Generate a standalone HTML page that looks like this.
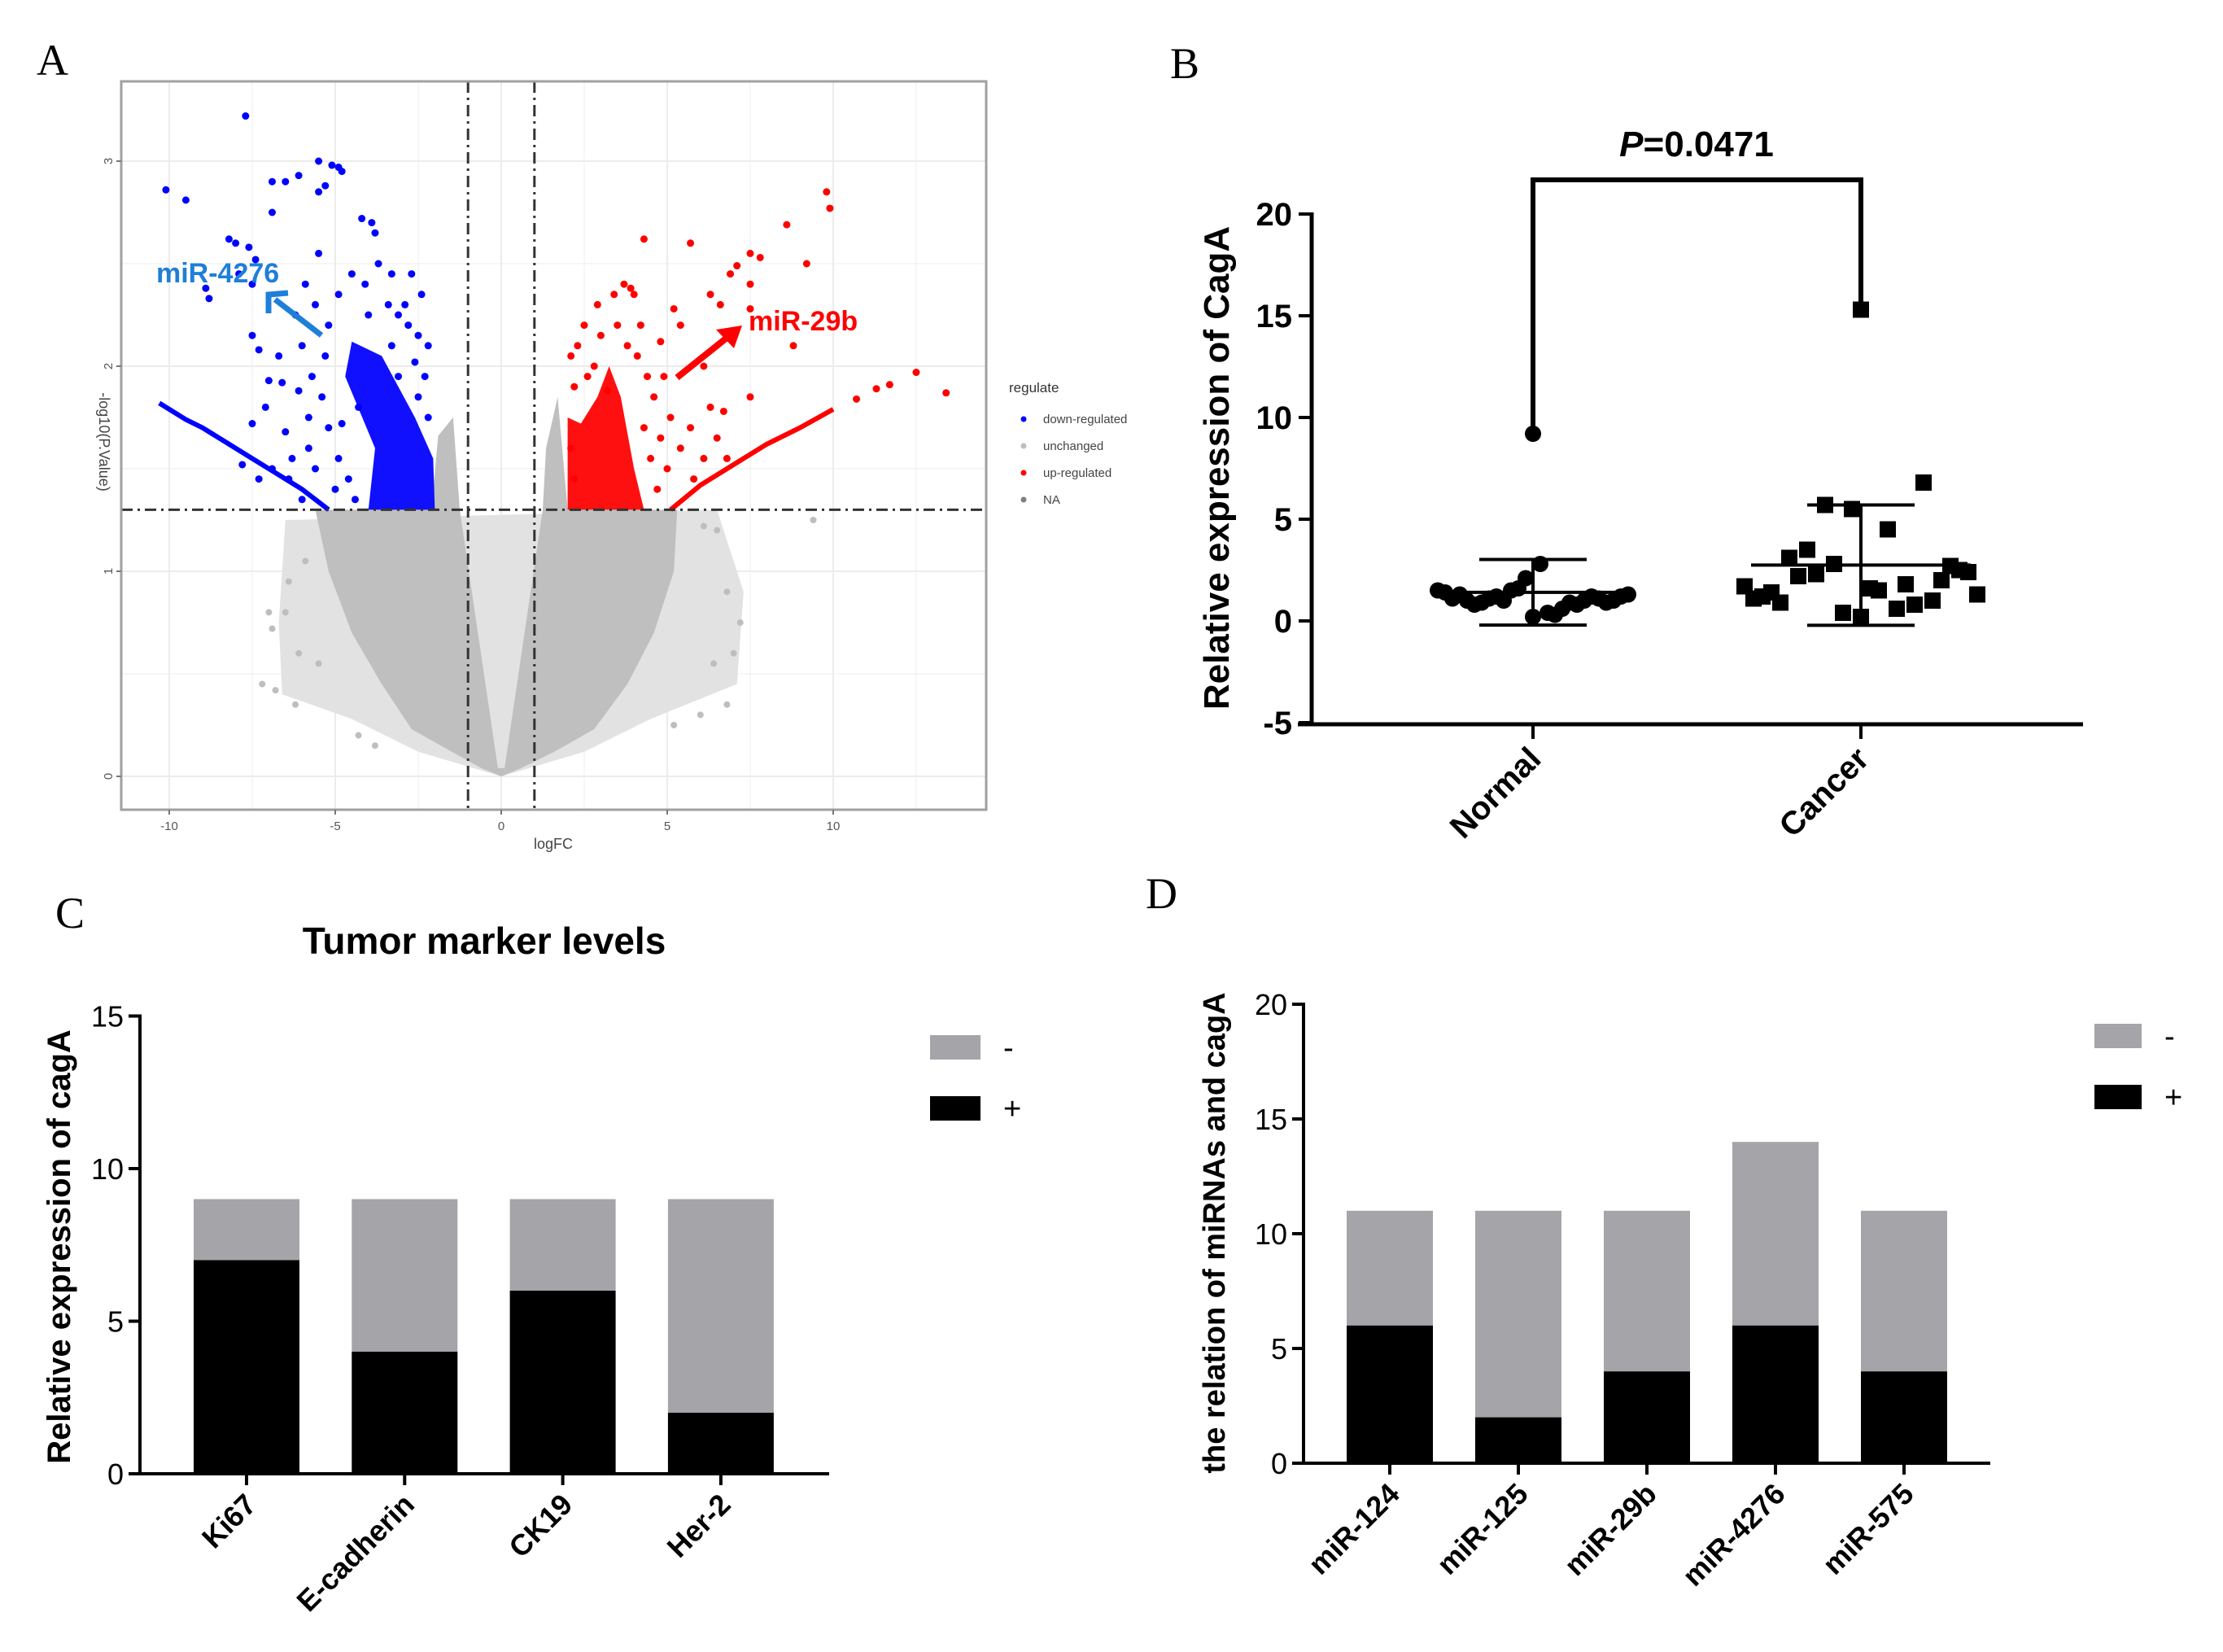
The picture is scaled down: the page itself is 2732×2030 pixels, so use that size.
<!DOCTYPE html>
<html><head><meta charset="utf-8">
<style>
html,body{margin:0;padding:0;background:#fff;}
svg{display:block;font-family:"Liberation Sans",Arial,sans-serif;}
</style></head>
<body>
<svg id="fig" width="2732" height="2030" viewBox="0 0 2732 2030" xmlns="http://www.w3.org/2000/svg">
<defs><clipPath id="clipA"><rect x="149" y="100" width="1063" height="895"/></clipPath></defs>
<rect width="2732" height="2030" fill="#fff"/>
<g id="pA"></g>
<g id="pB"></g>
<g id="pC"></g>
<g id="pD"></g>
</svg>
<script>
// ---------- Panel A data ----------
const aXTicks = [-10, -5, 0, 5, 10];
const aYTicks = [0, 1, 2, 3];
const greySparse = [[-6.5,1.25],[-6.7,0.75],[-6.6,0.4],[-4.5,0.28],[-2.5,0.12],[0,0],[2.5,0.12],[4.5,0.28],[7.1,0.45],[7.3,0.9],[6.5,1.3]];
const greyDense = [[0,0],[-0.6,0.04],[-1.6,0.13],[-2.7,0.23],[-3.6,0.45],[-4.5,0.7],[-5.2,1.0],[-5.6,1.3],[-2.1,1.3],[-1.9,1.66],[-1.45,1.75],[-1.25,1.3],[-0.1,0.04],[0.1,0.04],[1.25,1.3],[1.35,1.6],[1.7,1.85],[2.0,1.3],[5.3,1.3],[5.2,1.0],[4.6,0.7],[3.8,0.45],[2.8,0.23],[1.6,0.12],[0.6,0.04]];
const greyScatter = [[-6.8,0.42],[-6.5,0.8],[-6.4,0.95],[-5.9,1.05],[-6.1,0.6],[-5.5,0.55],[-4.3,0.2],[-3.8,0.15],[6.5,1.2],[6.8,0.9],[7,0.6],[7.2,0.75],[6,0.3],[9.4,1.25],[6.1,1.22],[5.2,0.25],[-7,0.8],[-6.9,0.72],[-7.2,0.45],[-6.2,0.35],[6.8,0.35],[6.4,0.55]];
const blueCore = [[-4.0,1.3],[-2.0,1.3],[-2.05,1.55],[-2.6,1.75],[-3.6,2.05],[-4.5,2.12],[-4.7,1.95],[-3.8,1.6]];
const bluePts = [[-7.7,3.22],[-10.1,2.86],[-9.5,2.81],[-5.5,3.0],[-5.1,2.98],[-4.9,2.97],[-4.8,2.95],[-6.1,2.93],[-6.5,2.9],[-6.9,2.9],[-5.3,2.88],[-5.5,2.85],[-4.2,2.72],[-3.9,2.7],[-3.8,2.65],[-6.9,2.75],[-8.2,2.62],[-8.0,2.6],[-7.6,2.58],[-7.4,2.52],[-5.5,2.55],[-4.5,2.45],[-8.9,2.38],[-7.5,2.4],[-8.8,2.33],[-7.9,2.45],[-3.4,2.3],[-3.1,2.25],[-7.5,2.15],[-7.3,2.08],[-7,1.93],[-6.6,1.92],[-6.1,1.88],[-7.1,1.8],[-7.5,1.72],[-6.5,1.68],[-5.8,1.6],[-7.8,1.52],[-6.9,1.5],[-7.3,1.45],[-2.8,2.2],[-2.5,2.15],[-2.6,2.02],[-2.3,1.95],[-2.5,1.85],[-2.2,1.75],
  [-5.9,2.4],[-5.6,2.3],[-6.2,2.25],[-5.2,2.2],[-4.9,2.35],[-4.1,2.4],[-3.7,2.5],[-3.3,2.45],[-6.0,2.1],[-5.7,1.95],[-5.4,1.85],[-5.2,1.7],[-5.6,1.5],[-4.9,1.55],[-4.6,1.45],[-5.0,1.4],[-4.4,1.35],[-6.3,1.55],[-6.0,1.35],[-5.8,1.75],[-4.3,1.8],[-4.0,2.25],[-3.3,2.1],[-2.9,2.3],[-2.7,2.45],[-2.4,2.35],[-2.2,2.1],[-3.1,1.95],[-6.7,2.05],[-6.4,1.45],[-5.3,2.05],[-4.8,1.72]];
const blueLine = [[-10.3,1.82],[-9.5,1.74],[-9,1.7],[-8.5,1.65],[-8,1.6],[-7.5,1.55],[-7,1.5],[-6.5,1.45],[-6,1.4],[-5.6,1.35],[-5.2,1.3]];
const redCore = [[2.0,1.3],[4.3,1.3],[4.0,1.5],[3.6,1.85],[3.25,2.0],[2.9,1.85],[2.4,1.72],[2.0,1.75]];
const redPts = [[9.8,2.85],[9.9,2.77],[8.6,2.69],[4.3,2.62],[5.7,2.6],[7.5,2.55],[7.8,2.53],[9.2,2.5],[7.1,2.49],[6.9,2.45],[7.5,2.4],[6.3,2.35],[6.6,2.3],[7.5,2.28],[8.8,2.1],[6.1,2.0],[7.5,1.85],[6.3,1.8],[6.7,1.78],[5.7,1.7],[6.5,1.65],[5.4,1.6],[6.8,1.55],[4.8,2.12],[5.2,2.28],[5.4,2.2],[3.9,2.38],[3.7,2.4],[4.0,2.35],[2.8,2.0],[2.6,1.95],[3.2,1.88],
  [2.1,2.05],[2.3,2.1],[2.5,2.2],[2.2,1.9],[3.0,2.15],[3.5,2.2],[4.1,2.05],[4.4,1.95],[4.6,1.85],[4.3,1.7],[4.8,1.65],[5.0,1.5],[4.7,1.4],[4.5,1.55],[5.1,1.75],[2.9,2.3],[3.4,2.35],[4.2,2.2],[2.1,1.6],[2.2,1.45],[5.8,1.45],[6.1,1.55],[4.9,1.95],[3.8,2.1]];
const redLine = [[5.1,1.3],[6,1.42],[7,1.52],[8,1.62],[9,1.7],[10,1.79],[10.7,1.84],[11.3,1.89],[11.7,1.91],[12.5,1.97],[13.4,1.87]];
const legendA = [["down-regulated","#0000ff"],["unchanged","#bebebe"],["up-regulated","#ff0000"],["NA","#7f7f7f"]];

// ---------- Panel B data ----------
const bCats = ["Normal","Cancer"];
const bYTicks = [-5, 0, 5, 10, 15, 20];
const normalVals = [9.2,0.2,2.8,2.1,0.4,1.6,0.3,1.5,0.6,1.0,0.9,1.2,0.8,1.1,1.0,0.9,1.2,0.8,1.1,1.0,0.9,1.3,1.0,1.1,1.2,1.4,1.3,1.5];
const cancerVals = [15.3,0.2,1.6,5.5,1.5,0.4,4.5,2.8,0.6,5.7,1.8,2.3,0.8,3.5,6.8,2.2,1.0,3.1,2.0,0.9,2.7,1.4,2.5,1.2,2.4,1.1,1.3,1.7];
const pLabel = "0.0471";

// ---------- Panel C data ----------
const cCats = ["Ki67","E-cadherin","CK19","Her-2"];
const cTotal = [9, 9, 9, 9];
const cPos = [7, 4, 6, 2];
const cYTicks = [0, 5, 10, 15];

// ---------- Panel D data ----------
const dCats = ["miR-124","miR-125","miR-29b","miR-4276","miR-575"];
const dTotal = [11, 11, 11, 14, 11];
const dPos = [6, 2, 4, 6, 4];
const dYTicks = [0, 5, 10, 15, 20];

const NS = "http://www.w3.org/2000/svg";
function mk(parent, tag, attrs, text) {
  const e = document.createElementNS(NS, tag);
  for (const k in attrs) e.setAttribute(k, attrs[k]);
  if (text !== undefined) e.textContent = text;
  parent.appendChild(e);
  return e;
}

// ================= Panel A =================
(function(){
  const root = document.getElementById('pA');
  const sx = v => 616 + v * 40.8;
  const sy = v => 954 - v * 252;
  let t = mk(root,'text',{x:45,y:92,'font-family':'Liberation Serif, serif','font-size':54},'A');
   
  const g = mk(root,'g',{'clip-path':'url(#clipA)'});
   
  for (let v=-12.5; v<=15; v+=2.5) {
    const l = mk(g,'line',{x1:sx(v),x2:sx(v),y1:100,y2:995,stroke:'#ececec','stroke-width':(v%5===0)?2:1});
     
  }
  for (let v=0; v<=3.5; v+=0.5) {
    const l = mk(g,'line',{x1:149,x2:1212,y1:sy(v),y2:sy(v),stroke:'#ececec','stroke-width':(v%1===0)?2:1});
     
  }
  const toPts = arr => arr.map(p => sx(p[0]) + ',' + sy(p[1])).join(' ');
  let p = mk(g,'polygon',{points:toPts(greySparse),fill:'#e2e2e2'});
   
  p = mk(g,'polygon',{points:toPts(greyDense),fill:'#bfbfbf'});
   
  greyScatter.forEach(d => { const c = mk(g,'circle',{cx:sx(d[0]),cy:sy(d[1]),r:4,fill:'#bebebe'});
      });
  p = mk(g,'polygon',{points:toPts(blueCore),fill:'#1010ff'});
   
  p = mk(g,'polygon',{points:toPts(redCore),fill:'#ff1010'});
   
  let pl = mk(g,'polyline',{points:toPts(blueLine),fill:'none',stroke:'#0000ff','stroke-width':6});
   
  pl = mk(g,'polyline',{points:toPts(redLine.slice(0,6)),fill:'none',stroke:'#ff0000','stroke-width':6});
   
  bluePts.forEach(d => { const c = mk(g,'circle',{cx:sx(d[0]),cy:sy(d[1]),r:4.5,fill:'#0000ff'});
      });
  redPts.concat(redLine.slice(6)).forEach(d => { const c = mk(g,'circle',{cx:sx(d[0]),cy:sy(d[1]),r:4.5,fill:'#ff0000'});
      });
  [-1,1].forEach(v => { const l = mk(g,'line',{x1:sx(v),x2:sx(v),y1:100,y2:995,stroke:'#333','stroke-width':3,'stroke-dasharray':'14 6 3 6'});
      });
  let l = mk(g,'line',{x1:149,x2:1212,y1:sy(1.3),y2:sy(1.3),stroke:'#333','stroke-width':3,'stroke-dasharray':'14 6 3 6'});
   
  let r = mk(root,'rect',{x:149,y:100,width:1063,height:895,fill:'none',stroke:'#a0a0a0','stroke-width':3});
   
  aXTicks.forEach(v => {
    const tl = mk(root,'line',{x1:sx(v),x2:sx(v),y1:995,y2:1001,stroke:'#777','stroke-width':2});
     
    const tx = mk(root,'text',{x:sx(v),y:1020,'font-size':15,fill:'#555','text-anchor':'middle'},String(v));
     
  });
  aYTicks.forEach(v => {
    const tl = mk(root,'line',{x1:143,x2:149,y1:sy(v),y2:sy(v),stroke:'#777','stroke-width':2});
     
    const tx = mk(root,'text',{x:0,y:0,'font-size':15,fill:'#555','text-anchor':'middle',transform:`translate(138,${sy(v)}) rotate(-90)`},String(v));
     
  });
  t = mk(root,'text',{x:680,y:1043,'font-size':18,fill:'#444','text-anchor':'middle'},'logFC');
   
  t = mk(root,'text',{x:0,y:0,'font-size':18,fill:'#444','text-anchor':'middle',transform:'translate(122,543) rotate(90)'},'-log10(P.Value)');
   
  t = mk(root,'text',{x:1240,y:482,'font-size':17,fill:'#333'},'regulate');
   
  legendA.forEach((e,i) => {
    const y = 515 + i*33;
    const c = mk(root,'circle',{cx:1258,cy:y,r:3.5,fill:e[1]});
     
    const tx = mk(root,'text',{x:1282,y:y+5,'font-size':15,fill:'#444'},e[0]);
     
  });
  t = mk(root,'text',{x:192,y:347,'font-size':34,'font-weight':'bold',fill:'#1f7fd8'},'miR-4276');
   
  l = mk(root,'line',{x1:395,y1:412,x2:338,y2:368,stroke:'#1f7fd8','stroke-width':7});
   
  p = mk(root,'polyline',{points:'330,385 330,362 354,360',fill:'none',stroke:'#1f7fd8','stroke-width':7});
   
  t = mk(root,'text',{x:920,y:406,'font-size':34,'font-weight':'bold',fill:'#ff0000'},'miR-29b');
   
  l = mk(root,'line',{x1:832,y1:464,x2:902,y2:408,stroke:'#ff0000','stroke-width':8});
   
  p = mk(root,'polygon',{points:'912,400 880,405 902,428',fill:'#ff0000'});
   
})();

// ================= Panel B =================
(function(){
  const g = document.getElementById('pB');
  const sy = v => 763 - v * 25;
  const cx = [1884, 2287];
  let t = mk(g,'text',{x:1438,y:96,'font-family':'Liberation Serif, serif','font-size':54},'B');
   
  let l = mk(g,'line',{x1:1612,x2:1612,y1:261,y2:892,stroke:'#000','stroke-width':5});
   
  l = mk(g,'line',{x1:1595,x2:2560,y1:890,y2:890,stroke:'#000','stroke-width':5});
   
  bYTicks.forEach(v => {
    const tl = mk(g,'line',{x1:1596,x2:1612,y1:sy(v),y2:sy(v),stroke:'#000','stroke-width':4});
     
    const tx = mk(g,'text',{x:1588,y:sy(v)+14,'font-size':40,'font-weight':'bold','text-anchor':'end'},String(v));
     
  });
  t = mk(g,'text',{x:0,y:0,'font-size':44,'font-weight':'bold','text-anchor':'middle',transform:'translate(1510,575) rotate(-90)'},'Relative expression of CagA');
   
  bCats.forEach((c,i) => {
    const tl = mk(g,'line',{x1:cx[i],x2:cx[i],y1:890,y2:908,stroke:'#000','stroke-width':4});
     
    const tx = mk(g,'text',{x:0,y:0,'font-size':40,'font-weight':'bold','text-anchor':'end',transform:`translate(${cx[i]+12},${935}) rotate(-45)`},c);
     
  });
  function stats(a){ const m=a.reduce((s,v)=>s+v,0)/a.length; const sd=Math.sqrt(a.reduce((s,v)=>s+(v-m)*(v-m),0)/(a.length-1)); return [m,sd]; }
  [normalVals, cancerVals].forEach((vals,i) => {
    const [m,sd] = stats(vals);
    const x = cx[i];
    const mw = i===0?125:135, ew = 66;
    let ml = mk(g,'line',{x1:x-mw,x2:x+mw,y1:sy(m),y2:sy(m),stroke:'#000','stroke-width':4});
     
    vals.forEach((v, idx) => {
      const k = idx - 1;
      const off = idx === 0 ? 0 : ((k%2)?1:-1)*Math.ceil(k/2)*(i===0?9:11);
      if (i === 0) {
        const c = mk(g,'circle',{cx:x+off,cy:sy(v),r:10,fill:'#000'});
         
      } else {
        const s = mk(g,'rect',{x:x+off-10,y:sy(v)-10,width:20,height:20,fill:'#000'});
         
      }
    });
    ml = mk(g,'line',{x1:x,x2:x,y1:sy(m+sd),y2:sy(m-sd),stroke:'#000','stroke-width':4});
     
    [m+sd, m-sd].forEach(v => { const c = mk(g,'line',{x1:x-ew,x2:x+ew,y1:sy(v),y2:sy(v),stroke:'#000','stroke-width':4});
        });
  });
  const top = 221;
  const br = mk(g,'polyline',{points:`${cx[0]},${sy(Math.max(...normalVals))} ${cx[0]},${top} ${cx[1]},${top} ${cx[1]},${sy(Math.max(...cancerVals))}`,fill:'none',stroke:'#000','stroke-width':6});
   
  t = mk(g,'text',{x:2085,y:192,'font-size':44,'font-weight':'bold','text-anchor':'middle'});
   
  mk(t,'tspan',{'font-style':'italic'},'P');
  mk(t,'tspan',{},'=' + pLabel);
})();

// ================= Stacked bar panels =================
function stacked(gid, opt){
  const g = document.getElementById(gid);
  const sy = v => opt.y0 - v * opt.unit;
  let t = mk(g,'text',{x:opt.lx,y:opt.ly,'font-family':'Liberation Serif, serif','font-size':54},opt.letter);
   
  const topV = opt.ticks[opt.ticks.length-1];
  let l = mk(g,'line',{x1:opt.ax,x2:opt.ax,y1:sy(topV)-2,y2:opt.y0+2,stroke:'#000','stroke-width':4});
   
  l = mk(g,'line',{x1:opt.ax,x2:opt.xend,y1:opt.y0,y2:opt.y0,stroke:'#000','stroke-width':4});
   
  opt.ticks.forEach(v => {
    const tl = mk(g,'line',{x1:opt.ax-14,x2:opt.ax,y1:sy(v),y2:sy(v),stroke:'#000','stroke-width':4});
     
    const tx = mk(g,'text',{x:opt.ax-20,y:sy(v)+13,'font-size':36,'text-anchor':'end'},String(v));
     
  });
  t = mk(g,'text',{x:0,y:0,'font-size':opt.tsize,'font-weight':'bold','text-anchor':'middle',transform:`translate(${opt.tx},${opt.ty}) rotate(-90)`},opt.ytitle);
   
  opt.cats.forEach((c,i) => {
    const x = opt.bx0 + i*opt.step;
    const neg = mk(g,'rect',{x:x,y:sy(opt.total[i]),width:opt.bw,height:sy(opt.pos[i])-sy(opt.total[i]),fill:'#a5a5a9'});
     
    const pos = mk(g,'rect',{x:x,y:sy(opt.pos[i]),width:opt.bw,height:opt.y0-sy(opt.pos[i]),fill:'#000'});
     
    const cx = x + opt.bw/2;
    const tl = mk(g,'line',{x1:cx,x2:cx,y1:opt.y0,y2:opt.y0+14,stroke:'#000','stroke-width':4});
     
    const tx = mk(g,'text',{x:0,y:0,'font-size':36,'font-weight':'bold','text-anchor':'end',transform:`translate(${cx+14},${opt.y0+40}) rotate(-45)`},c);
     
  });
  [['#a5a5a9','-'],['#000','+']].forEach((e,i) => {
    const y = opt.legY + i*opt.legGap;
    const s = mk(g,'rect',{x:opt.legX,y:y-15,width:opt.legW,height:30,fill:e[0]});
     
    const tx = mk(g,'text',{x:opt.legX+opt.legW+28,y:y+13,'font-size':38},e[1]);
     
  });
}
stacked('pC',{letter:'C',letterName:'panel-c-label',lx:68,ly:1140,y0:1811,unit:37.5,ax:172,xend:1019,ticks:cYTicks,
  cats:cCats,total:cTotal,pos:cPos,bx0:238,step:194.3,bw:130,ytitle:'Relative expression of cagA',tx:86,ty:1532,tsize:40,
  legX:1143,legY:1287,legGap:75,legW:62});
stacked('pD',{letter:'D',letterName:'panel-d-label',lx:1408,ly:1116,y0:1798,unit:28.2,ax:1602,xend:2446,ticks:dYTicks,
  cats:dCats,total:dTotal,pos:dPos,bx0:1655,step:158,bw:106,ytitle:'the relation of miRNAs and cagA',tx:1505,ty:1515,tsize:38,
  legX:2574,legY:1273,legGap:75,legW:58});
(function(){
  const g = document.getElementById('pC');
  const t = mk(g,'text',{x:595,y:1172,'font-size':46,'font-weight':'bold','text-anchor':'middle'},'Tumor marker levels');
   
})();
</script>
</body></html>
